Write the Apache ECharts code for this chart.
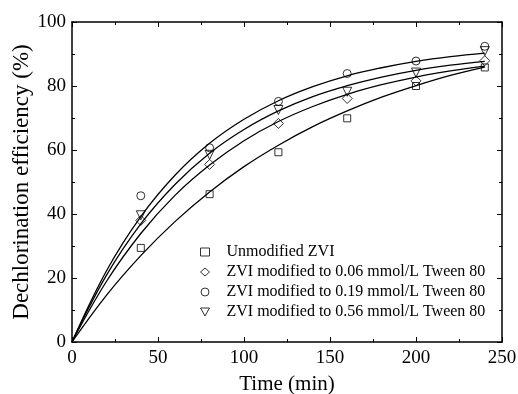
<!DOCTYPE html>
<html>
<head>
<meta charset="utf-8">
<script src="https://cdn.jsdelivr.net/npm/echarts@6/dist/echarts.min.js"></script>
<style>
  html, body { margin: 0; padding: 0; background: #fff; }
  #chart { width: 518px; height: 394px; }
</style>
</head>
<body>
<div id="chart"></div>
<script>
// measured points
const timePoints = [40, 80, 120, 160, 200, 240];
const unmodified = [29.4, 46.2, 59.3, 69.9, 80.0, 85.8];
const tween006 = [38.0, 55.5, 68.3, 76.1, 81.6, 87.9];
const tween019 = [45.7, 60.7, 75.2, 83.9, 87.8, 92.4];
const tween056 = [39.6, 58.5, 72.5, 78.2, 84.2, 90.9];

// fitted curves
const fitTime = [0, 20, 40, 60, 80, 100, 120, 140, 160, 180, 200, 220, 240];
const fitUnmodified = [0, 14.6, 27.0, 37.7, 46.9, 54.8, 61.5, 67.3, 72.2, 76.5, 80.1, 83.3, 85.9];
const fit006 = [0, 18.9, 33.9, 45.9, 55.3, 62.9, 68.9, 73.6, 77.4, 80.4, 82.8, 84.7, 86.2];
const fit019 = [0, 22.2, 39.2, 52.2, 62.1, 69.6, 75.4, 79.8, 83.2, 85.7, 87.7, 89.2, 90.3];
const fit056 = [0, 20.8, 36.9, 49.3, 59.0, 66.4, 72.2, 76.7, 80.1, 82.8, 84.9, 86.5, 87.7];

const legendNames = [
  'Unmodified ZVI',
  'ZVI modified to 0.06 mmol/L Tween 80',
  'ZVI modified to 0.19 mmol/L Tween 80',
  'ZVI modified to 0.56 mmol/L Tween 80'
];

const font = 'Liberation Serif';
const downTriangle = 'path://M0,0L10,0L5,9Z';
const pair = (xs, ys) => xs.map((x, i) => [x, ys[i]]);

function scatter(name, data, symbol, size, rotate) {
  return {
    name: name,
    type: 'scatter',
    data: pair(timePoints, data),
    symbol: symbol,
    symbolSize: size,
    symbolRotate: rotate || 0,
    itemStyle: { color: 'rgba(255,255,255,0)', borderColor: '#000', borderWidth: 1 },
    z: 3
  };
}

function curve(data) {
  return {
    type: 'line',
    data: pair(fitTime, data),
    smooth: 0.4,
    showSymbol: false,
    silent: true,
    lineStyle: { color: '#000', width: 1.3 },
    z: 2
  };
}

const axisCommon = {
  type: 'value',
  axisLine: { show: true, onZero: false, lineStyle: { color: '#000', width: 1.5 } },
  axisTick: { show: true, inside: true, length: 5, lineStyle: { color: '#000', width: 1 } },
  minorTick: { show: true, splitNumber: 2, length: 3, lineStyle: { color: '#000', width: 1 } },
  splitLine: { show: false },
  axisLabel: { color: '#000', fontFamily: font, fontSize: 19 }
};

const option = {
  animation: false,
  backgroundColor: '#fff',
  grid: { left: 72, right: 16, top: 22, bottom: 52, outerBoundsMode: 'none' },
  legend: {
    data: [
      { name: legendNames[0], icon: 'rect' },
      { name: legendNames[1], icon: 'diamond' },
      { name: legendNames[2], icon: 'circle' },
      { name: legendNames[3], icon: downTriangle }
    ],
    orient: 'vertical',
    left: 195,
    top: 239,
    itemWidth: 9,
    itemHeight: 8,
    itemGap: 4,
    itemStyle: { color: 'rgba(255,255,255,0)', borderColor: '#000', borderWidth: 1 },
    textStyle: { color: '#000', fontFamily: font, fontSize: 16, padding: [0, 0, 0, 12] }
  },
  xAxis: [
    Object.assign({}, axisCommon, {
      min: 0, max: 250, interval: 50,
      name: 'Time (min)',
      nameLocation: 'middle',
      nameGap: 32,
      nameMoveOverlap: false,
      nameTextStyle: { color: '#000', fontFamily: font, fontSize: 21 },
      axisLabel: Object.assign({}, axisCommon.axisLabel, { margin: 7 })
    }),
    Object.assign({}, axisCommon, {
      min: 0, max: 250, interval: 50, position: 'top',
      axisLabel: { show: false }
    })
  ],
  yAxis: [
    Object.assign({}, axisCommon, {
      min: 0, max: 100, interval: 20,
      name: 'Dechlorination efficiency (%)',
      nameLocation: 'middle',
      nameGap: 39,
      nameMoveOverlap: false,
      nameTextStyle: { color: '#000', fontFamily: font, fontSize: 23 },
      axisLabel: Object.assign({}, axisCommon.axisLabel, { margin: 6 })
    }),
    Object.assign({}, axisCommon, {
      min: 0, max: 100, interval: 20, position: 'right',
      axisLabel: { show: false }
    })
  ],
  series: [
    curve(fitUnmodified),
    curve(fit006),
    curve(fit019),
    curve(fit056),
    scatter(legendNames[0], unmodified, 'rect', 7),
    scatter(legendNames[1], tween006, 'diamond', 10),
    scatter(legendNames[2], tween019, 'circle', 8),
    scatter(legendNames[3], tween056, 'triangle', 9, 180)
  ]
};

const chart = echarts.init(document.getElementById('chart'));
chart.setOption(option);
</script>
</body>
</html>
